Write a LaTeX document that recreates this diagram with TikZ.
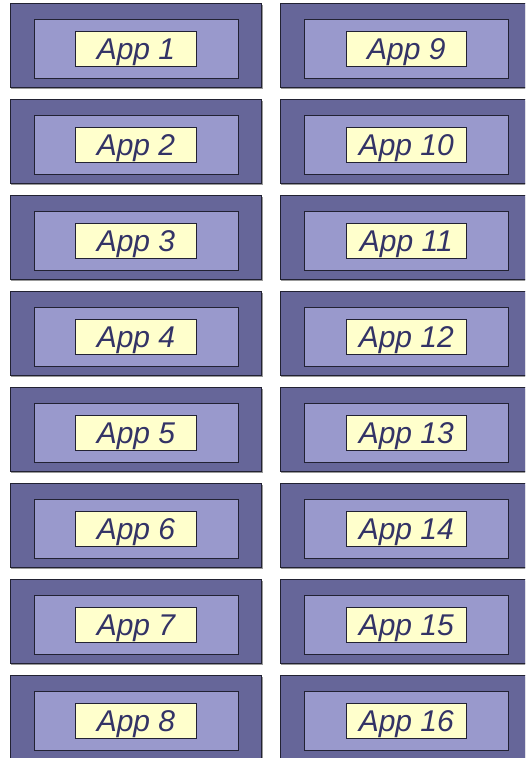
\documentclass[tikz,border=0pt]{standalone}
\usepackage{fontspec}
\setmainfont{Liberation Sans}
\definecolor{outerc}{HTML}{666699}
\definecolor{innerc}{HTML}{9999CC}
\definecolor{labelc}{HTML}{FFFFCC}
\definecolor{textc}{HTML}{333366}
\definecolor{edgec}{HTML}{222233}
\begin{document}
\begin{tikzpicture}[x=1pt,y=-1pt,
  outerbox/.style={draw=edgec,fill=outerc,line width=0.9pt,minimum width=251.7pt,minimum height=84.5pt,inner sep=0pt,outer sep=0pt},
  innerbox/.style={draw=edgec,fill=innerc,line width=0.9pt,minimum width=204pt,minimum height=59.3pt,inner sep=0pt,outer sep=0pt},
  labelbox/.style={draw=edgec,fill=labelc,line width=0.8pt,minimum width=120.5pt,minimum height=35.6pt,inner sep=0pt,outer sep=0pt,
    text height=21.2pt,text depth=0pt,
    text=textc,font=\fontsize{30}{30}\selectfont\itshape},
  shadowbox/.style={fill=black!40,minimum width=251.7pt,minimum height=84.5pt,inner sep=0pt,outer sep=0pt}]
\useasboundingbox (0,0) rectangle (525,758);
\begin{scope}
\clip (0,0) rectangle (525,758);
\foreach \i in {1,...,8} {
  \pgfmathsetmacro{\yc}{3.3+96*(\i-1)+42.25}
  \pgfmathtruncatemacro{\j}{\i+8}
  % shadows
  \node[shadowbox] (sa\i) at (137.2,\yc+1.4) {};
  \node[shadowbox] (sb\i) at (407.2,\yc+1.4) {};
  % left column
  \node[outerbox] (oa\i) at (135.85,\yc) {};
  \node[innerbox] (ia\i) at (136,\yc+3.1) {};
  \node[labelbox] (la\i) at (136,\yc+3.2) {App \i};
  % right column
  \node[outerbox] (ob\i) at (405.85,\yc) {};
  \node[innerbox] (ib\i) at (406.2,\yc+3.1) {};
  \node[labelbox] (lb\i) at (406.3,\yc+3.2) {App \j};
}
\end{scope}
\end{tikzpicture}
\end{document}
